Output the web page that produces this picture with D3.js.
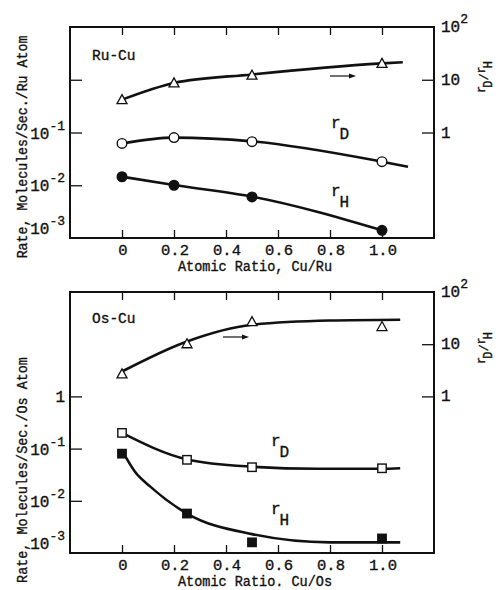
<!DOCTYPE html>
<html><head><meta charset="utf-8">
<script src="https://cdn.jsdelivr.net/npm/d3@7"></script>
<style>
body{margin:0;background:#fff}
svg{display:block}
text{font-family:"Liberation Mono","DejaVu Sans Mono",monospace;fill:#111;stroke:#111;stroke-width:0.35}
</style>
</head><body><svg id="c" width="498" height="590"></svg>
<script>
// ---------- data ----------
const xTicks = [0, 0.2, 0.4, 0.6, 0.8, 1.0];
const xTickLabels = ["0", "0.2", "0.4", "0.6", "0.8", "1.0"];

// Ru-Cu
const ruX = [0, 0.2, 0.5, 1.0];
const ruRD = [0.062, 0.080, 0.067, 0.028];
const ruRH = [0.0145, 0.010, 0.006, 0.0014];
const ruRatio = [4.2, 8.7, 12.2, 20.4];
const ruRatioFitX = [0, 0.2, 0.5, 1.0, 1.08];
const ruRatioFit = [4.2, 8.7, 12.6, 20.4, 21.5];
const ruRDFitX = [0, 0.2, 0.5, 1.0, 1.1];
const ruRDFit = [0.062, 0.080, 0.068, 0.028, 0.0225];
const ruRHFitX = [0, 0.2, 0.5, 1.0];
const ruRHFit = [0.0145, 0.0101, 0.0061, 0.0014];

// Os-Cu
const osX = [0, 0.25, 0.5, 1.0];
const osRD = [0.20, 0.061, 0.044, 0.042];
const osRH = [0.080, 0.0057, 0.0016, 0.0019];
const osRatio = [2.7, 10.2, 27, 21.8];
const osRatioFitX = [0, 0.25, 0.5, 0.8, 1.07];
const osRatioFit = [3.0, 11.3, 23.6, 28.5, 29.5];
const osRDFitX = [0, 0.25, 0.5, 0.75, 1.0, 1.07];
const osRDFit = [0.20, 0.062, 0.045, 0.041, 0.041, 0.042];
const osRHFitX = [0.01, 0.05, 0.11, 0.25, 0.5, 0.8, 1.07];
const osRHFit = [0.075, 0.036, 0.0185, 0.0057, 0.0023, 0.0016, 0.0016];

// axis tick labels: [value, base, exponent]
const ruLeftLabels = [[1e-3, "10", "-3"], [1e-2, "10", "-2"], [1e-1, "10", "-1"]];
const ruLeftTicks = [1e-2, 1e-1, 1];
const ruRightLabels = [[1, "1", ""], [10, "10", ""], [100, "10", "2"]];
const ruRightTicks = [1, 10];
const osLeftLabels = [[1e-3, "10", "-3"], [1e-2, "10", "-2"], [1e-1, "10", "-1"], [1, "1", ""]];
const osLeftTicks = [1e-2, 1e-1, 1];
const osRightLabels = [[1, "1", ""], [10, "10", ""], [100, "10", "2"]];
const osRightTicks = [1, 10];

// ---------- drawing ----------
const svg = d3.select("#c");
const L = 70, R = 434;
const x = d3.scaleLinear().domain([-0.2, 1.2]).range([L, R]);

function zip(a, b) { return a.map((v, i) => [v, b[i]]); }

function panel(cfg) {
  const g = svg.append("g");
  const T = cfg.top, B = cfg.bottom;
  const yL = d3.scaleLog().domain(cfg.leftDomain).range([B, T]);
  const yR = d3.scaleLog().domain(cfg.rightDomain).range([B, T]);

  // ticks via d3 axes (inward)
  g.append("g").attr("transform", `translate(0,${B})`)
    .call(d3.axisBottom(x).tickValues(xTicks).tickSize(-8).tickFormat(""))
    .call(a => a.select(".domain").remove());
  g.append("g").attr("transform", `translate(0,${T})`)
    .call(d3.axisTop(x).tickValues(xTicks).tickSize(-8).tickFormat(""))
    .call(a => a.select(".domain").remove());
  g.append("g").attr("transform", `translate(${L},0)`)
    .call(d3.axisLeft(yL).tickValues(cfg.leftTicks).tickSize(-12).tickFormat(""))
    .call(a => a.select(".domain").remove());
  g.append("g").attr("transform", `translate(${R},0)`)
    .call(d3.axisRight(yR).tickValues(cfg.rightTicks).tickSize(-12).tickFormat(""))
    .call(a => a.select(".domain").remove());
  g.selectAll(".tick line").attr("stroke", "#111").attr("stroke-width", 1.3);

  // frame
  g.append("rect").attr("x", L).attr("y", T).attr("width", R - L).attr("height", B - T)
    .attr("fill", "none").attr("stroke", "#111").attr("stroke-width", 2);

  // x tick labels
  g.selectAll(".xl").data(xTicks).join("text")
    .attr("x", d => x(d) + 1).attr("y", B + 17)
    .attr("text-anchor", "middle").attr("font-size", 15.5)
    .text((d, i) => xTickLabels[i]);
  g.append("text").attr("x", 255).attr("y", B + 33)
    .attr("text-anchor", "middle").attr("font-size", 14)
    .attr("textLength", 154).attr("lengthAdjust", "spacingAndGlyphs")
    .text(cfg.xTitle);

  // left labels
  cfg.leftLabels.forEach(([v, b, e]) => {
    const t = g.append("text").attr("x", 65)
      .attr("y", yL(v) + (v === cfg.leftDomain[0] ? -4 : 6))
      .attr("text-anchor", "end").attr("font-size", 16);
    t.append("tspan").text(b);
    if (e) t.append("tspan").attr("font-size", 13).attr("dy", -9).text(e);
  });
  // right labels
  cfg.rightLabels.forEach(([v, b, e]) => {
    const t = g.append("text").attr("x", 441)
      .attr("y", yR(v) + 5).attr("font-size", 16);
    t.append("tspan").text(b);
    if (e) t.append("tspan").attr("font-size", 13).attr("dy", -9).text(e);
  });

  // left title (condensed typewriter look)
  const ltSize = 15.5, ltNatural = cfg.leftTitle.length * ltSize * 0.6;
  g.append("text")
    .attr("transform", `translate(27,${cfg.leftTitleY}) rotate(-90) scale(${cfg.leftTitleLen / ltNatural},1)`)
    .attr("text-anchor", "middle").attr("font-size", ltSize)
    .text(cfg.leftTitle);
  // right title r_D / r_H
  const rt = g.append("text")
    .attr("transform", `translate(485,${cfg.rightTitleY}) rotate(-90)`)
    .attr("text-anchor", "middle").attr("font-size", 12);
  rt.append("tspan").text("r");
  rt.append("tspan").attr("dx", -2).attr("dy", 7).text("D");
  rt.append("tspan").attr("dy", -4).text("/");
  rt.append("tspan").attr("dy", -3).text("r");
  rt.append("tspan").attr("dx", -2).attr("dy", 7).text("H");

  // panel label
  g.append("text").attr("x", 92).attr("y", cfg.nameY).attr("font-size", 14.5).text(cfg.name);

  // curves
  const line = y => d3.line().x(d => x(d[0])).y(d => y(d[1])).curve(d3.curveMonotoneX);
  cfg.curves.forEach(c => {
    g.append("path").attr("d", line(c.right ? yR : yL)(zip(c.x, c.y)))
      .attr("fill", "none").attr("stroke", "#111").attr("stroke-width", 2.6);
  });

  // markers
  cfg.series.forEach(s => {
    const yy = s.right ? yR : yL;
    const pts = zip(s.x, s.y);
    if (s.shape === "circle") {
      g.selectAll(null).data(pts).join("circle")
        .attr("cx", d => x(d[0])).attr("cy", d => yy(d[1])).attr("r", 4.8)
        .attr("fill", s.fill).attr("stroke", "#111").attr("stroke-width", 1.4);
    } else if (s.shape === "square") {
      g.selectAll(null).data(pts).join("rect")
        .attr("x", d => x(d[0]) - 4.2).attr("y", d => yy(d[1]) - 4.2)
        .attr("width", 8.4).attr("height", 8.4)
        .attr("fill", s.fill).attr("stroke", "#111").attr("stroke-width", 1.4);
    } else {
      g.selectAll(null).data(pts).join("path")
        .attr("transform", d => `translate(${x(d[0])},${yy(d[1])})`)
        .attr("d", "M0,-5L5,4L-5,4Z")
        .attr("fill", "#fff").attr("stroke", "#111").attr("stroke-width", 1.3);
    }
  });

  // arrow (points to right axis)
  const ay = cfg.arrowY, ax0 = cfg.arrowX, ax1 = cfg.arrowX + 26;
  g.append("line").attr("x1", ax0).attr("x2", ax1 - 3).attr("y1", ay).attr("y2", ay)
    .attr("stroke", "#111").attr("stroke-width", 1.2);
  g.append("path").attr("d", `M${ax1},${ay}L${ax1 - 7},${ay - 2.5}L${ax1 - 7},${ay + 2.5}Z`).attr("fill", "#111");

  // r_D, r_H labels
  cfg.rLabels.forEach(l => {
    const t = g.append("text").attr("x", l.x).attr("y", l.y).attr("font-size", 16);
    t.append("tspan").text("r");
    t.append("tspan").attr("dx", -1).attr("dy", 11).text(l.sub);
  });
}

panel({
  top: 27, bottom: 238,
  leftDomain: [1e-3, 10], rightDomain: [1e-2, 100],
  leftTicks: ruLeftTicks, rightTicks: ruRightTicks,
  leftLabels: ruLeftLabels, rightLabels: ruRightLabels,
  xTitle: "Atomic Ratio, Cu/Ru",
  leftTitle: "Rate, Molecules/Sec./Ru Atom", leftTitleY: 147, leftTitleLen: 223,
  rightTitleY: 77, name: "Ru-Cu", nameY: 60,
  curves: [
    {x: ruRatioFitX, y: ruRatioFit, right: true},
    {x: ruRDFitX, y: ruRDFit},
    {x: ruRHFitX, y: ruRHFit}
  ],
  series: [
    {x: ruX, y: ruRatio, right: true, shape: "tri"},
    {x: ruX, y: ruRD, shape: "circle", fill: "#fff"},
    {x: ruX, y: ruRH, shape: "circle", fill: "#111"}
  ],
  arrowX: 330, arrowY: 76,
  rLabels: [{x: 331, y: 128, sub: "D"}, {x: 331, y: 196, sub: "H"}]
});

panel({
  top: 292, bottom: 553,
  leftDomain: [1e-3, 100], rightDomain: [1e-3, 100],
  leftTicks: osLeftTicks, rightTicks: osRightTicks,
  leftLabels: osLeftLabels, rightLabels: osRightLabels,
  xTitle: "Atomic Ratio. Cu/Os",
  leftTitle: "Rate, Molecules/Sec./Os Atom", leftTitleY: 470, leftTitleLen: 226,
  rightTitleY: 348, name: "Os-Cu", nameY: 323,
  curves: [
    {x: osRatioFitX, y: osRatioFit, right: true},
    {x: osRDFitX, y: osRDFit},
    {x: osRHFitX, y: osRHFit}
  ],
  series: [
    {x: osX, y: osRatio, right: true, shape: "tri"},
    {x: osX, y: osRD, shape: "square", fill: "#fff"},
    {x: osX, y: osRH, shape: "square", fill: "#111"}
  ],
  arrowX: 223, arrowY: 337,
  rLabels: [{x: 271, y: 446, sub: "D"}, {x: 271, y: 514, sub: "H"}]
});
</script>
</body></html>
